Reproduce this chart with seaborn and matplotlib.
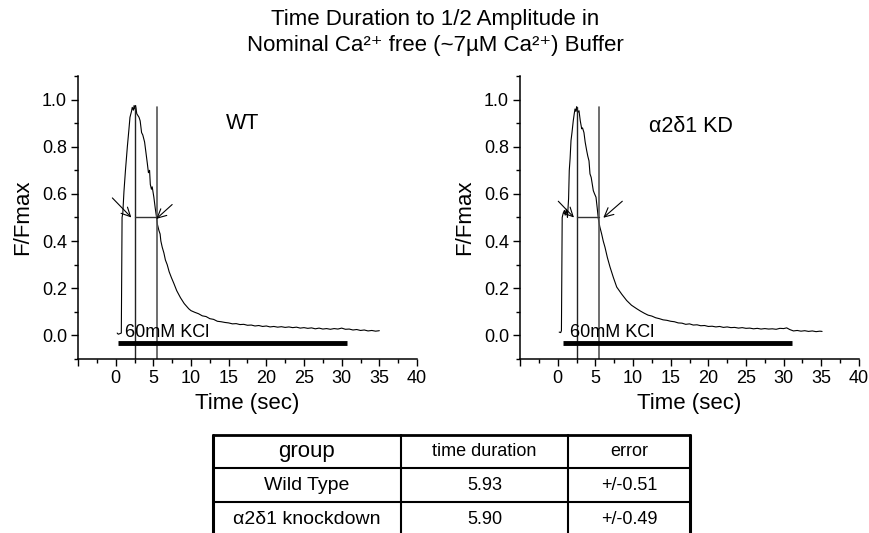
import matplotlib
matplotlib.use("Agg")
import matplotlib.pyplot as plt
import seaborn as sns
import pandas as pd
from matplotlib.ticker import MultipleLocator, FixedLocator

# ---------------- data ----------------
wt_time = [0.2, 0.35, 0.75, 0.85, 0.95, 1.1, 1.3, 1.55, 1.75, 1.9, 2.1, 2.2, 2.35, 2.45, 2.55,
           2.65, 2.8, 3.0, 3.1, 3.25, 3.44, 3.6, 3.84, 4.0, 4.2, 4.35, 4.5, 4.6, 4.75, 4.85,
           5.07, 5.25, 5.43, 5.55, 5.74, 5.9, 6.0, 6.18, 6.4, 6.6, 6.84, 7.1, 7.4, 7.73, 8.1,
           8.6, 9.1, 9.7, 10.0, 10.5, 11.0, 11.5, 12.0, 12.5, 13.0, 13.5, 14.0, 14.5, 15.0,
           15.5, 16.0, 16.5, 17.0, 17.5, 18.0, 18.5, 19.0, 19.5, 20.0, 20.5, 21.0, 21.5, 22.0,
           22.5, 23.0, 23.5, 24.0, 24.5, 25.0, 25.5, 26.0, 26.5, 27.0, 27.5, 28.0, 28.5, 29.0,
           29.5, 30.0, 30.5, 31.0, 31.5, 32.0, 32.5, 33.0, 33.5, 34.0, 34.5, 35.0]
wt_ff = [0.010, 0.005, 0.010, 0.500, 0.520, 0.610, 0.700, 0.800, 0.870, 0.925, 0.950, 0.967,
         0.955, 0.975, 0.960, 0.975, 0.940, 0.930, 0.925, 0.910, 0.860, 0.850, 0.820, 0.780,
         0.730, 0.690, 0.700, 0.640, 0.620, 0.630, 0.586, 0.540, 0.500, 0.470, 0.445, 0.430,
         0.400, 0.374, 0.350, 0.320, 0.300, 0.270, 0.245, 0.220, 0.190, 0.160, 0.135, 0.113,
         0.105, 0.098, 0.092, 0.083, 0.080, 0.071, 0.068, 0.060, 0.058, 0.055, 0.053, 0.049,
         0.050, 0.046, 0.047, 0.043, 0.044, 0.040, 0.042, 0.038, 0.040, 0.036, 0.038, 0.035,
         0.037, 0.034, 0.036, 0.033, 0.035, 0.031, 0.033, 0.030, 0.032, 0.028, 0.031, 0.027,
         0.029, 0.026, 0.029, 0.027, 0.031, 0.026, 0.027, 0.023, 0.025, 0.021, 0.023, 0.019,
         0.021, 0.018, 0.020]

kd_time = [0.2, 0.4, 0.5, 0.6, 0.75, 0.9, 1.0, 1.15, 1.3, 1.45, 1.54, 1.65, 1.77, 1.9, 2.07,
           2.2, 2.3, 2.42, 2.52, 2.65, 2.83, 3.0, 3.19, 3.3, 3.49, 3.65, 3.85, 4.0, 4.16, 4.29,
           4.45, 4.65, 4.73, 4.9, 5.09, 5.25, 5.4, 5.6, 5.84, 6.05, 6.28, 6.6, 6.95, 7.4, 7.84,
           8.5, 9.16, 9.8, 10.5, 11.0, 11.5, 12.0, 12.5, 13.0, 13.5, 14.0, 14.5, 15.0, 15.5,
           16.0, 16.5, 17.0, 17.5, 18.0, 18.5, 19.0, 19.5, 20.0, 20.5, 21.0, 21.5, 22.0, 22.5,
           23.0, 23.5, 24.0, 24.5, 25.0, 25.5, 26.0, 26.5, 27.0, 27.5, 28.0, 28.5, 29.0, 29.5,
           30.0, 30.4, 30.8, 31.3, 31.8, 32.3, 32.8, 33.3, 33.8, 34.3, 34.8, 35.1]
kd_ff = [0.014, 0.012, 0.020, 0.500, 0.520, 0.530, 0.510, 0.535, 0.500, 0.580, 0.700, 0.750,
         0.826, 0.860, 0.910, 0.940, 0.960, 0.950, 0.970, 0.945, 0.953, 0.910, 0.876, 0.880,
         0.860, 0.820, 0.784, 0.760, 0.740, 0.685, 0.670, 0.630, 0.614, 0.600, 0.586, 0.540,
         0.494, 0.460, 0.430, 0.400, 0.374, 0.330, 0.290, 0.245, 0.205, 0.175, 0.148, 0.128,
         0.113, 0.103, 0.094, 0.086, 0.082, 0.075, 0.071, 0.066, 0.064, 0.060, 0.058, 0.053,
         0.052, 0.047, 0.049, 0.044, 0.045, 0.041, 0.042, 0.038, 0.039, 0.036, 0.038, 0.034,
         0.036, 0.033, 0.034, 0.031, 0.033, 0.030, 0.031, 0.028, 0.030, 0.027, 0.029, 0.027,
         0.028, 0.026, 0.030, 0.029, 0.032, 0.025, 0.019, 0.021, 0.018, 0.020, 0.017, 0.019,
         0.016, 0.018, 0.017]

# half-amplitude markers: (start time, end time, level)
wt_half = (2.52, 5.50, 0.50)
kd_half = (2.52, 5.52, 0.50)
# KCl application bar (start, end)
wt_kcl = (0.3, 30.7)
kd_kcl = (0.66, 31.15)

panel_labels = ["WT", "\u03b12\u03b41 KD"]
x_tick_labels = ["", "0", "5", "10", "15", "20", "25", "30", "35", "40"]
x_ticks = [-5, 0, 5, 10, 15, 20, 25, 30, 35, 40]
y_ticks = [0.0, 0.2, 0.4, 0.6, 0.8, 1.0]

table_header = ["group", "time duration", "error"]
table_groups = ["Wild Type", "\u03b12\u03b41 knockdown"]
table_durations = ["5.93", "5.90"]
table_errors = ["+/-0.51", "+/-0.49"]

title_lines = ["Time Duration to 1/2 Amplitude in",
               "Nominal Ca\u00b2\u207a free (~7\u00b5M Ca\u00b2\u207a) Buffer"]

# ---------------- style ----------------
sns.set_style("ticks")
plt.rcParams["font.family"] = ["Liberation Sans", "DejaVu Sans"]
for k in ("text.color", "axes.labelcolor", "xtick.color", "ytick.color", "axes.edgecolor"):
    plt.rcParams[k] = "black"

W, H = 870, 533
fig = plt.figure(figsize=(W / 100, H / 100), dpi=100)

def px_ax(l, r, b, t):
    return fig.add_axes([l / W, 1 - b / H, (r - l) / W, (b - t) / H])

axL = px_ax(78, 417, 359, 76)
axR = px_ax(520, 859, 359, 76)

panels = [
    (axL, wt_time, wt_ff, wt_half, wt_kcl, panel_labels[0], (16.8, 0.90), (-0.44, 0.583, 2.08, 0.50), (7.5, 0.555, 5.39, 0.494)),
    (axR, kd_time, kd_ff, kd_half, kd_kcl, panel_labels[1], (17.7, 0.886), (0.08, 0.569, 2.16, 0.50), (8.58, 0.569, 6.06, 0.499)),
]

for ax, t, f, half, kcl, lab, labpos, arr1, arr2 in panels:
    df = pd.DataFrame({"Time": t, "FF": f})
    sns.lineplot(data=df, x="Time", y="FF", ax=ax, color="black", lw=0.8,
                 estimator=None, sort=False)
    t0, t1, lvl = half
    ax.plot([t0, t0], [-0.1, 0.97], color="#222222", lw=1.0)
    ax.plot([t1, t1], [-0.1, 0.97], color="#555555", lw=1.2)
    ax.plot([t0, t1], [lvl, lvl], color="#333333", lw=1.0)
    ax.plot([kcl[0], kcl[1]], [-0.031, -0.031], color="black", lw=3.5, solid_capstyle="butt")
    ax.text(kcl[0] + 1.0, -0.008, "60mM KCl", fontsize=13, ha="left", va="baseline")
    ax.text(labpos[0], labpos[1], lab, fontsize=15.5, ha="center", va="center")
    for a in (arr1, arr2):
        ax.annotate("", xy=(a[2], a[3]), xytext=(a[0], a[1]),
                    arrowprops=dict(arrowstyle="->", color="black", lw=0.8,
                                    mutation_scale=16, shrinkA=0, shrinkB=0))
    ax.set_xlim(-5, 40)
    ax.set_ylim(-0.1, 1.1)
    ax.xaxis.set_major_locator(FixedLocator(x_ticks))
    ax.set_xticklabels(x_tick_labels)
    ax.xaxis.set_minor_locator(MultipleLocator(2.5))
    ax.yaxis.set_major_locator(FixedLocator(y_ticks))
    ax.set_yticklabels([f"{v:.1f}" for v in y_ticks])
    ax.yaxis.set_minor_locator(MultipleLocator(0.1))
    ax.tick_params(axis="both", which="major", direction="out", length=5, width=1,
                   labelsize=13, pad=3, colors="black")
    ax.tick_params(axis="both", which="minor", direction="out", length=3, width=1, colors="black")
    ax.set_xlabel("Time (sec)", fontsize=16, labelpad=4)
    ax.set_ylabel("F/Fmax", fontsize=16, labelpad=6)
    sns.despine(ax=ax)
    for s in ("left", "bottom"):
        ax.spines[s].set_linewidth(1.1)
        ax.spines[s].set_color("black")

# ---------------- title ----------------
fig.text(0.5, 1 - 20 / H, title_lines[0], ha="center", va="center", fontsize=16)
fig.text(0.5, 1 - 46 / H, title_lines[1], ha="center", va="center", fontsize=16)

# ---------------- table ----------------
tab = fig.add_axes([0, 0, 1, 1], zorder=-1)
tab.set_xlim(0, W)
tab.set_ylim(H, 0)
tab.axis("off")
col_x = [213, 401, 568, 690]
row_y = [435, 468, 502, 540]
tab.plot([col_x[0], col_x[-1]], [row_y[0], row_y[0]], color="black", lw=2.0)
for yv in row_y[1:3]:
    tab.plot([col_x[0], col_x[-1]], [yv, yv], color="black", lw=1.5)
tab.plot([col_x[0], col_x[0]], [row_y[0], H], color="black", lw=2.2)
tab.plot([col_x[-1], col_x[-1]], [row_y[0], H], color="black", lw=2.2)
for xv in col_x[1:3]:
    tab.plot([xv, xv], [row_y[0], H], color="black", lw=1.5)
centers = [(col_x[i] + col_x[i + 1]) / 2 for i in range(3)]
row_c = [(row_y[i] + row_y[i + 1]) / 2 for i in range(2)] + [519]
hdr_sizes = [16, 13, 13]
for c, txt, fs in zip(centers, table_header, hdr_sizes):
    tab.text(c, row_c[0], txt, ha="center", va="center", fontsize=fs)
for r, (g, d, e) in enumerate(zip(table_groups, table_durations, table_errors)):
    yc = row_c[r + 1]
    tab.text(centers[0], yc, g, ha="center", va="center", fontsize=14)
    tab.text(centers[1], yc, d, ha="center", va="center", fontsize=13)
    tab.text(centers[2], yc, e, ha="center", va="center", fontsize=13)

fig.savefig("out.png", dpi=100)
